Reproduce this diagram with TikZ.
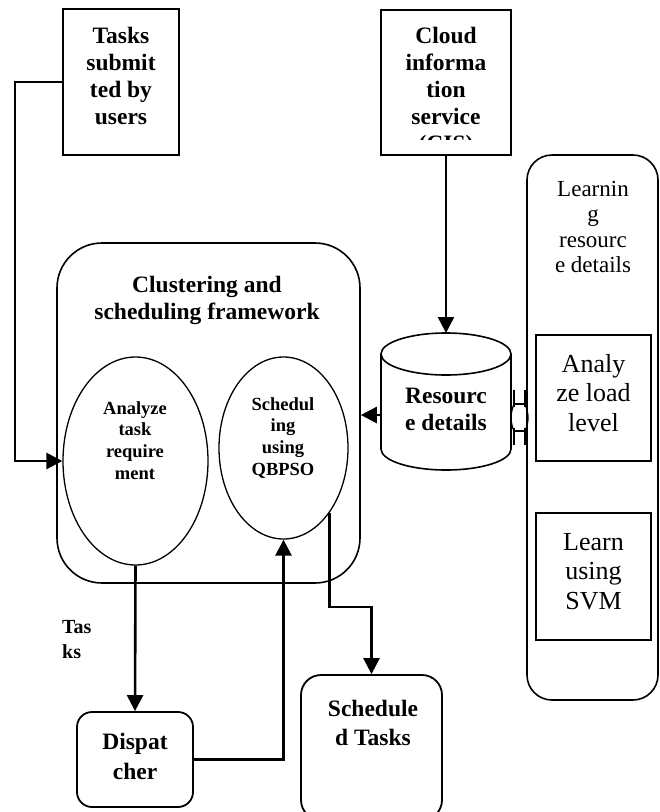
\documentclass[tikz,border=0pt]{standalone}
\usepackage{fontspec}
\setmainfont{Liberation Serif}
\usetikzlibrary{arrows.meta,shapes.geometric,calc}
\begin{document}
\begin{tikzpicture}[x=1pt,y=-1pt,
  box/.style={draw,line width=1.8pt,inner sep=0pt},
  ellbox/.style={draw,ellipse,line width=1.3pt,inner sep=0pt},
  bigtxt/.style={inner sep=0pt,align=center,anchor=north,font=\bfseries\fontsize{23.5}{27}\selectfont},
  midtxt/.style={inner sep=0pt,align=center,anchor=north,font=\bfseries\fontsize{18.5}{21.7}\selectfont},
  regtxt/.style={inner sep=0pt,align=center,anchor=north,font=\fontsize{23}{25.5}\selectfont},
  boxtxt/.style={inner sep=0pt,align=center,anchor=north,font=\fontsize{26}{29.5}\selectfont},
  linkline/.style={line width=2.6pt},
  linkarrow/.style={linkline,-{Triangle[width=16pt,length=16pt]}}
]
\useasboundingbox (0,0) rectangle (660,812);
\clip (0,0) rectangle (660,812);

% top boxes
\node[box,minimum width=116pt,minimum height=146pt] (tasks) at (121,82) {};
\node[bigtxt] (taskstxt) at (121,27) {Tasks\\submit\\ted by\\users};

\node[box,minimum width=130pt,minimum height=145pt] (cis) at (446,82.5) {};
\begin{scope}
  \clip (381,10) rectangle (511,139);
  \node[bigtxt] (cistxt) at (446,27) {Cloud\\informa\\tion\\service\\(CIS)};
\end{scope}

% framework
\node[box,line width=1.6pt,rounded corners=45pt,minimum width=303pt,minimum height=340pt] (frame) at (208.5,413) {};
\node[bigtxt] (frametxt) at (207,276) {Clustering and\\scheduling framework};

\node[ellbox,minimum width=145pt,minimum height=208pt] (ell1) at (135.5,461) {};
\node[midtxt] (ell1txt) at (135,401) {Analyze\\task\\require\\ment};
\node[ellbox,minimum width=129pt,minimum height=182pt] (ell2) at (283.5,448) {};
\node[midtxt] (ell2txt) at (283,397) {Schedul\\ing\\using\\QBPSO};

% cylinder
\draw[line width=1.6pt] (446,354) ellipse [x radius=65, y radius=21];
\draw[line width=1.6pt] (381,354) -- (381,449) arc[start angle=180, end angle=0, x radius=65, y radius=21] -- (511,354);
\coordinate (cyltop) at (446,333);
\coordinate (cylW) at (381,415);
\node[bigtxt] (cyltxt) at (446,388) {Resourc\\e details};

% right panel
\node[box,line width=1.6pt,rounded corners=25pt,minimum width=131pt,minimum height=545pt] (panel) at (592.5,427.5) {};
\node[regtxt] (paneltxt) at (593,181) {Learnin\\g\\resourc\\e details};
\node[box,minimum width=115pt,minimum height=126pt] (load) at (593.5,398) {};
\node[boxtxt] (loadtxt) at (593.5,354) {Analy\\ze load\\level};
\node[box,minimum width=115pt,minimum height=127pt] (svm) at (593.5,576.5) {};
\node[boxtxt] (svmtxt) at (593.5,533) {Learn\\using\\SVM};

% odd double connector between cylinder and panel
\begin{scope}[line width=1.3pt]
  \draw (514,390) -- (514,407) (525,390) -- (525,407) (514,404) -- (525,404);
  \draw (514,404) .. controls (510,414) and (510,422) .. (514,431);
  \draw (525,404) .. controls (529,414) and (529,422) .. (525,431);
  \draw (514,428) -- (514,445) (525,428) -- (525,445) (514,431) -- (525,431);
\end{scope}

% bottom boxes
\node[box,rounded corners=15pt,minimum width=116pt,minimum height=95pt] (disp) at (135,759.5) {};
\node[bigtxt,font=\bfseries\fontsize{23.5}{30}\selectfont] (disptxt) at (135,733) {Dispat\\cher};
\node[box,rounded corners=20pt,minimum width=141pt,minimum height=145pt] (sched) at (371.5,747.5) {};
\node[bigtxt,font=\bfseries\fontsize{23.5}{29}\selectfont] (schedtxt) at (373,700) {Schedule\\d Tasks};

\node[inner sep=0pt,align=left,anchor=north west,font=\bfseries\fontsize{20}{25}\selectfont] (taskslbl) at (62,620) {Tas\\ks};

% connectors
\coordinate (k0) at (15,0);
\coordinate (k1) at (0,607);
\draw[linkarrow] (tasks.west) -| (k0 |- ell1.west) -- (ell1.west);
\draw[linkarrow] (cis.south -| cyltop) -- (cyltop);
\draw[linkarrow] (cylW) -- (cylW -| frame.east);
\draw[linkarrow] (ell1.south) -- (disp.north);
\draw[linkarrow] (disp.east) -| (ell2.south);
\draw[linkarrow] (ell2.-55) |- (sched.north |- k1) -- (sched.north);
\end{tikzpicture}
\end{document}
